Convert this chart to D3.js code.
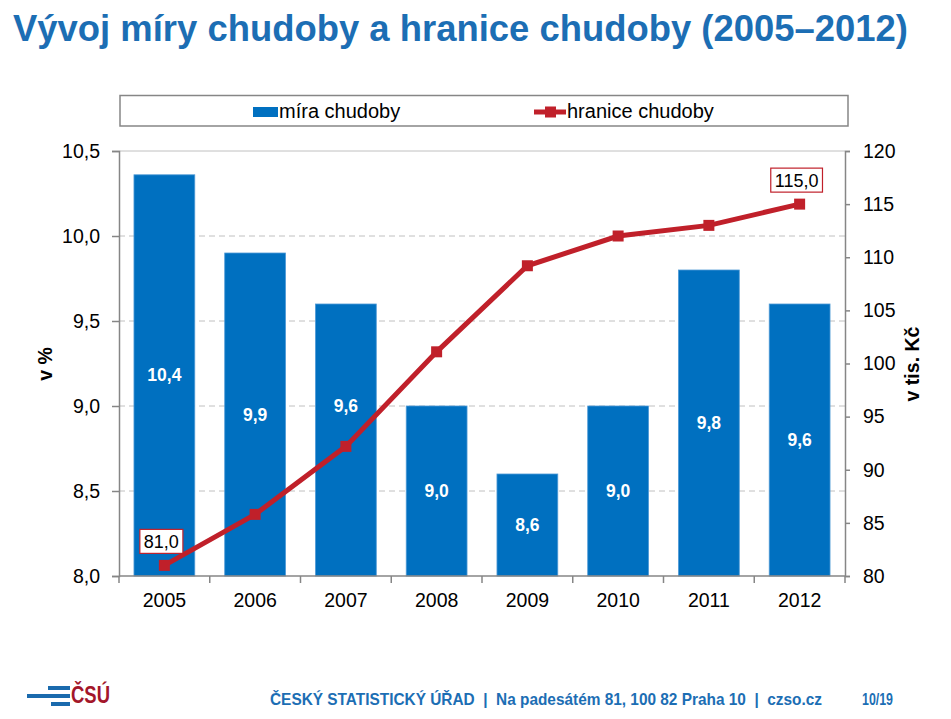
<!DOCTYPE html>
<html><head><meta charset="utf-8">
<script src="https://cdn.jsdelivr.net/npm/d3@7"></script>
<style>body{margin:0;background:#fff}svg{display:block;font-family:"Liberation Sans",Arial,sans-serif}</style>
</head><body>
<svg id="c" width="951" height="719"></svg>
<script>
const years = ["2005","2006","2007","2008","2009","2010","2011","2012"];
const povertyRate = [10.36, 9.9, 9.6, 9.0, 8.6, 9.0, 9.8, 9.6];
const povertyLine = [81.0, 85.8, 92.2, 101.1, 109.2, 112.0, 113.0, 115.0];
const lineLabelIdx = [0, 7];
const leftTicks = [8.0, 8.5, 9.0, 9.5, 10.0, 10.5];
const rightTicks = [80, 85, 90, 95, 100, 105, 110, 115, 120];

const barLabelNudge = {"2007": -34};

const svg = d3.select("#c");
const blue = "#0070c0", red = "#c0202a", titleBlue = "#1c6eb4";
const L = 119, R = 845, T = 151, B = 576;
const FS = 19.5;
const fmt = v => d3.format(".1f")(v).replace(".", ",");

// title
svg.append("text").attr("x", 13).attr("y", 41).attr("font-size", 37).attr("font-weight", "bold")
  .attr("fill", titleBlue).attr("textLength", 895).attr("lengthAdjust", "spacingAndGlyphs")
  .text("Vývoj míry chudoby a hranice chudoby (2005–2012)");

const x = d3.scaleBand().domain(years).range([L, R]).paddingInner(0.33).paddingOuter(0.165);
const xb = d3.scaleBand().domain(years).range([L, R]);
const yL = d3.scaleLinear().domain([8, 10.5]).range([B, T]);
const yR = d3.scaleLinear().domain([80, 120]).range([B, T]);

// grid
svg.append("g").selectAll("line").data(leftTicks.filter(t => t > 8 && t < 10.5)).join("line")
  .attr("x1", L).attr("x2", R).attr("y1", d => yL(d)).attr("y2", d => yL(d))
  .attr("stroke", "#c0c0c0").attr("stroke-width", 1).attr("stroke-dasharray", "6,4");
svg.append("line").attr("x1", L).attr("x2", R).attr("y1", T).attr("y2", T).attr("stroke", "#c0c0c0");

// bars
svg.append("g").selectAll("rect").data(years).join("rect")
  .attr("x", d => x(d)).attr("width", x.bandwidth())
  .attr("y", (d, i) => yL(povertyRate[i])).attr("height", (d, i) => B - yL(povertyRate[i]))
  .attr("fill", blue).attr("stroke", "#4f9ad6").attr("stroke-width", 0.8);

svg.append("g").selectAll("text").data(years).join("text")
  .attr("x", d => x(d) + x.bandwidth() / 2)
  .attr("y", (d, i) => (yL(povertyRate[i]) + B) / 2 + 6 + (barLabelNudge[d] || 0))
  .attr("text-anchor", "middle").attr("font-size", 17.5).attr("font-weight", "bold").attr("fill", "#fff")
  .text((d, i) => fmt(povertyRate[i]));

// axes
const axL = svg.append("g").attr("transform", `translate(${L},0)`)
  .call(d3.axisLeft(yL).tickValues(leftTicks).tickFormat(fmt).tickSize(7).tickPadding(12));
const axR = svg.append("g").attr("transform", `translate(${R},0)`)
  .call(d3.axisRight(yR).tickValues(rightTicks).tickFormat(d3.format("d")).tickSize(5).tickPadding(13));
const axB = svg.append("g").attr("transform", `translate(0,${B})`)
  .call(d3.axisBottom(x).tickSize(0).tickPadding(17));
[axL, axR, axB].forEach(g => {
  g.select(".domain").attr("stroke", "#868686").attr("stroke-width", 1.5);
  g.selectAll(".tick line").attr("stroke", "#868686").attr("stroke-width", 1.5);
  g.selectAll("text").attr("font-size", FS).attr("fill", "#000").attr("font-family", "Liberation Sans, Arial, sans-serif");
});
axB.select(".domain").attr("d", `M${L},0H${R}`);
svg.append("g").selectAll("line").data(years.concat(["end"])).join("line")
  .attr("x1", (d, i) => L + i * xb.bandwidth()).attr("x2", (d, i) => L + i * xb.bandwidth())
  .attr("y1", B).attr("y2", B + 7).attr("stroke", "#868686").attr("stroke-width", 1.5);

// axis titles
svg.append("text").attr("transform", "translate(52,364) rotate(-90)").attr("text-anchor", "middle")
  .attr("font-size", FS).attr("font-weight", "bold").text("v %");
svg.append("text").attr("transform", "translate(919,364) rotate(-90)").attr("text-anchor", "middle")
  .attr("font-size", FS).attr("font-weight", "bold").text("v tis. Kč");

// line
const cx = (d) => x(d) + x.bandwidth() / 2;
const line = d3.line().x((d, i) => cx(years[i])).y(d => yR(d));
svg.append("path").datum(povertyLine).attr("d", line).attr("fill", "none")
  .attr("stroke", red).attr("stroke-width", 5);
svg.append("g").selectAll("rect").data(povertyLine).join("rect")
  .attr("x", (d, i) => cx(years[i]) - 5.5).attr("y", d => yR(d) - 5.5)
  .attr("width", 11).attr("height", 11).attr("fill", red);

// line labels
lineLabelIdx.forEach(i => {
  const px = cx(years[i]) - 3, py = yR(povertyLine[i]) - 24;
  const g = svg.append("g");
  const t = g.append("text").attr("x", px).attr("y", py + 6.5).attr("text-anchor", "middle")
    .attr("font-size", 18).text(fmt(povertyLine[i]));
  const bb = t.node().getBBox();
  g.insert("rect", "text").attr("x", bb.x - 4).attr("y", py - 12).attr("width", bb.width + 8).attr("height", 24)
    .attr("fill", "#fff").attr("stroke", red).attr("stroke-width", 1.2);
});

// legend
svg.append("rect").attr("x", 120).attr("y", 95.5).attr("width", 728).attr("height", 30.5)
  .attr("fill", "#fff").attr("stroke", "#868686").attr("stroke-width", 1.5);
svg.append("rect").attr("x", 253).attr("y", 107).attr("width", 25).attr("height", 10).attr("fill", blue);
svg.append("text").attr("x", 279).attr("y", 118).attr("font-size", 20).text("míra chudoby");
svg.append("line").attr("x1", 534).attr("x2", 566).attr("y1", 112).attr("y2", 112).attr("stroke", red).attr("stroke-width", 5);
svg.append("rect").attr("x", 545).attr("y", 106.5).attr("width", 11).attr("height", 11).attr("fill", red);
svg.append("text").attr("x", 567).attr("y", 118).attr("font-size", 20).text("hranice chudoby");

// footer
svg.append("text").attr("x", 270).attr("y", 705).attr("font-size", 16.5).attr("font-weight", "bold")
  .attr("fill", titleBlue).attr("textLength", 552).attr("lengthAdjust", "spacingAndGlyphs")
  .attr("xml:space", "preserve")
  .text("ČESKÝ STATISTICKÝ ÚŘAD  |  Na padesátém 81, 100 82 Praha 10  |  czso.cz");
svg.append("text").attr("x", 862).attr("y", 705).attr("font-size", 16.5).attr("font-weight", "bold")
  .attr("fill", titleBlue).attr("textLength", 31).attr("lengthAdjust", "spacingAndGlyphs").text("10/19");

// logo
const logo = svg.append("g");
[[48, 686, 22], [27, 694, 43], [51, 702, 19]].forEach(([lx, ly, w]) =>
  logo.append("rect").attr("x", lx).attr("y", ly).attr("width", w).attr("height", 4).attr("fill", "#1a6aad"));
logo.append("text").attr("x", 71).attr("y", 703).attr("font-size", 23).attr("font-weight", "bold")
  .attr("fill", "#a3162a").attr("textLength", 39).attr("lengthAdjust", "spacingAndGlyphs").text("ČSÚ");
</script>
</body></html>
